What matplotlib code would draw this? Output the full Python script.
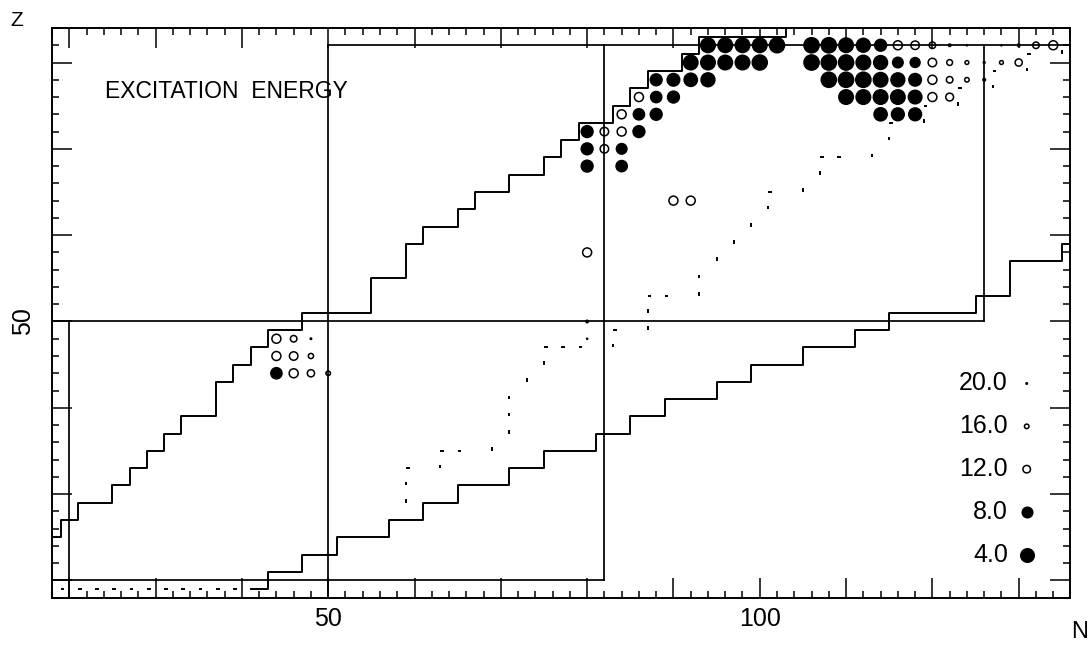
import numpy as np
import matplotlib
matplotlib.use("Agg")
import matplotlib.pyplot as plt
from matplotlib.collections import LineCollection
from matplotlib.ticker import MultipleLocator, FuncFormatter

plt.rcParams['font.family'] = ['Liberation Sans', 'DejaVu Sans']

# excited states: neutron number, proton number, excitation energy (MeV)
exc_N = [94, 96, 98, 100, 102, 106, 108, 110, 112, 114, 116, 118, 120, 122, 124, 128, 130, 132, 134,
         92, 94, 96, 98, 100, 106, 108, 110, 112, 114, 116, 118, 120, 122, 124, 126, 128, 130,
         88, 90, 92, 94, 108, 110, 112, 114, 116, 118, 120, 122, 124, 126,
         86, 88, 90, 110, 112, 114, 116, 118, 120, 122,
         84, 86, 88, 114, 116, 118,
         80, 82, 84, 86,
         80, 82, 84,
         80, 84,
         90, 92,
         80,
         80,
         80, 44, 46, 48,
         44, 46, 48,
         44, 46, 48, 50]
exc_Z = [82] * 19 + [80] * 18 + [78] * 14 + [76] * 10 + [74] * 6 + [72] * 4 + [70] * 3 + [68] * 2 \
        + [64] * 2 + [58] + [50] + [48] * 4 + [46] * 3 + [44] * 4
exc_E = [2.7, 2.7, 2.7, 2.7, 2.0, 1.8, 1.8, 2.7, 3.6, 6.3, 10.0, 10.7, 13.3, 18.7, 20.4, 20.4, 18.5, 13.3, 10.0,
         2.7, 2.7, 2.7, 2.7, 2.0, 1.8, 1.8, 1.8, 2.7, 3.6, 8.0, 8.9, 10.7, 14.3, 16.9, 19.6, 16.9, 12.4,
         6.3, 5.3, 4.4, 3.6, 1.8, 1.8, 1.8, 2.7, 3.6, 5.3, 10.0, 13.3, 16.0, 18.5,
         10.0, 7.1, 6.3, 2.7, 2.7, 2.7, 2.7, 4.0, 10.0, 11.6,
         10.0, 7.1, 6.3, 4.5, 5.0, 5.0,
         6.3, 10.7, 10.0, 6.3,
         6.3, 10.7, 8.0,
         6.3, 7.1,
         10.0, 10.0,
         10.0,
         18.7,
         20.7, 10.0, 13.3, 20.0,
         10.0, 10.7, 15.1,
         7.1, 10.0, 12.4, 16.0]

legend_E = [20.0, 16.0, 12.0, 8.0, 4.0]

# proton drip line (staircase)
pdrip_N = [18, 19, 19, 21, 21, 25, 25, 27, 27, 29, 29, 31, 31, 33, 33, 37, 37, 39, 39, 41, 41, 43, 43,
           47, 47, 55, 55, 59, 59, 61, 61, 65, 65, 67, 67, 71, 71, 75, 75, 77, 77, 79, 79, 83, 83,
           85, 85, 87, 87, 91, 91, 93, 93, 103, 103]
pdrip_Z = [25, 25, 27, 27, 29, 29, 31, 31, 33, 33, 35, 35, 37, 37, 39, 39, 43, 43, 45, 45, 47, 47, 49,
           49, 51, 51, 55, 55, 59, 59, 61, 61, 63, 63, 65, 65, 67, 67, 69, 69, 71, 71, 73, 73, 75,
           75, 77, 77, 79, 79, 81, 81, 83, 83, 85]

# neutron drip line (staircase)
ndrip_N = [41, 43, 43, 47, 47, 51, 51, 57, 57, 61, 61, 65, 65, 71, 71, 75, 75, 81, 81, 85, 85, 89, 89,
           95, 95, 99, 99, 105, 105, 111, 111, 115, 115, 125, 125, 129, 129, 135, 135, 137]
ndrip_Z = [19, 19, 21, 21, 23, 23, 25, 25, 27, 27, 29, 29, 31, 31, 33, 33, 35, 35, 37, 37, 39, 39, 41,
           41, 43, 43, 45, 45, 47, 47, 49, 49, 51, 51, 53, 53, 57, 57, 59, 59]

# dotted line, two pieces
dot1_N = [19, 43]
dot1_Z = [19, 19]
dot2_N = [59, 59, 63, 63, 69, 69, 71, 71, 73, 73, 75, 75, 83, 83, 87, 87, 93, 93, 95, 95, 97, 97,
          99, 99, 101, 101, 105, 105, 107, 107, 113, 113, 115, 115, 119, 119, 123, 123, 127, 127,
          131, 131, 135, 135]
dot2_Z = [29, 33, 33, 35, 35, 37, 37, 43, 43, 45, 45, 47, 47, 49, 49, 53, 53, 57, 57, 59, 59, 61,
          61, 63, 63, 65, 65, 67, 67, 69, 69, 71, 71, 73, 73, 75, 75, 77, 77, 79, 79, 81, 81, 83]

# magic numbers: value and the range the line spans
magic_N = [20, 50, 82, 126]
magic_N_span = [(18, 50), (18, 82), (20, 82), (50, 82)]
magic_Z = [20, 50, 82]
magic_Z_span = [(18, 82), (18, 126), (50, 136)]

x_labels = {50: '50', 100: '100'}
y_labels = {50: '50'}


def step_dashes(ns, zs, dash=0.42, period=2.0):
    segs = []
    for n0, z0, n1, z1 in zip(ns[:-1], zs[:-1], ns[1:], zs[1:]):
        length = abs(n1 - n0) + abs(z1 - z0)
        dn, dz = np.sign(n1 - n0), np.sign(z1 - z0)
        # horizontal runs lose their last dot before the next rise
        stop = length if n0 == n1 else length - 2
        for t in np.arange(0, stop - 1e-9, period):
            segs.append([(n0 + dn * t, z0 + dz * t),
                         (n0 + dn * (t + dash), z0 + dz * (t + dash))])
    return segs


def marker_size(e, mew_px=1.5):
    # outer diameter in pixels shrinks with energy
    outer = max(18 - 0.75 * e, 2.6)
    return (outer - mew_px) * 0.72


fig = plt.figure(figsize=(10.9, 6.48), dpi=100)
ax = fig.add_axes([0.0477, 0.0776, 0.9344, 0.8792])
ax.set_xlim(18, 136)
ax.set_ylim(18, 84)

for n, (z0, z1) in zip(magic_N, magic_N_span):
    ax.plot([n, n], [z0, z1], color='black', lw=1.25, zorder=2)
for z, (n0, n1) in zip(magic_Z, magic_Z_span):
    ax.plot([n0, n1], [z, z], color='black', lw=1.25, zorder=2)

ax.plot(pdrip_N, pdrip_Z, color='black', lw=1.4, zorder=2)
ax.plot(ndrip_N, ndrip_Z, color='black', lw=1.4, zorder=2)

dots = step_dashes(dot1_N, dot1_Z) + step_dashes(dot2_N, dot2_Z)
ax.add_collection(LineCollection(dots, colors='black', linewidths=1.4, capstyle='butt', zorder=2))

sizes = [marker_size(e) ** 2 for e in exc_E]
faces = ['black' if e < 9.5 else 'none' for e in exc_E]
ax.scatter(exc_N, exc_Z, s=sizes, facecolors=faces, edgecolors='black', linewidths=1.1, zorder=3)

# energy key
for i, e in enumerate(legend_E):
    y = 0.376 - i * 0.0752
    ax.scatter([0.957], [y], s=[marker_size(e) ** 2], transform=ax.transAxes,
               facecolors='black' if e < 9.5 else 'none', edgecolors='black',
               linewidths=1.1, clip_on=False, zorder=3)
    ax.text(0.9386, y, '%.1f' % e, transform=ax.transAxes, ha='right', va='center', fontsize=18)

ax.text(0.052, 0.877, 'EXCITATION  ENERGY', transform=ax.transAxes, ha='left',
        va='baseline', fontsize=16.5)

ax.xaxis.set_major_locator(MultipleLocator(10))
ax.xaxis.set_minor_locator(MultipleLocator(2))
ax.yaxis.set_major_locator(MultipleLocator(10))
ax.yaxis.set_minor_locator(MultipleLocator(2))
ax.xaxis.set_major_formatter(FuncFormatter(lambda v, p: x_labels.get(int(round(v)), '')))
ax.yaxis.set_major_formatter(FuncFormatter(lambda v, p: y_labels.get(int(round(v)), '')))
ax.tick_params(which='both', direction='in', top=True, right=True, width=1.1, colors='black')
ax.tick_params(which='major', length=14.4, labelsize=18)
ax.tick_params(which='minor', length=5)
ax.tick_params(axis='x', which='major', pad=7)
ax.tick_params(axis='y', which='major', pad=12)
for lab in ax.get_yticklabels():
    lab.set_rotation(90)
    lab.set_va('center')
for sp in ax.spines.values():
    sp.set_linewidth(1.4)

fig.text(0.0155, 0.968, 'Z', ha='center', va='center', fontsize=15)
fig.text(0.990, 0.024, 'N', ha='center', va='center', fontsize=17)

fig.savefig('out.png', dpi=100)
